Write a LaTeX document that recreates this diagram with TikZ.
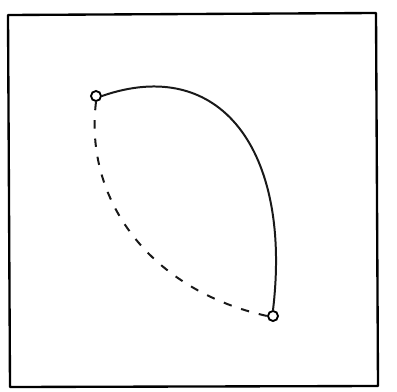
\documentclass[tikz,border=0pt]{standalone}
\usepackage{tikz}
\usetikzlibrary{positioning,calc}

\begin{document}
\begin{tikzpicture}[
  x=0.03cm, y=-0.03cm,
  frame/.style={draw, line width=2pt, line join=round},
  dot/.style={circle, draw, line width=1.6pt, inner sep=0pt, minimum size=0.3cm, fill=white},
  link/.style={line width=1.7pt, black!90},
  alt/.style={link, dash pattern=on 0.25cm off 0.3cm}
]
\useasboundingbox (0,0) rectangle (397,391);
\draw[frame] (8,15) -- (376,13) -- (378,386) -- (10,387) -- cycle;
\node[dot] (a) at (96,96) {};
\node[dot] (b) at (273,316) {};
\draw[link] (a.east) .. controls (220,55) and (292,150) .. (b.north);
\draw[alt] (a.south) .. controls (84,200) and (150,290) .. (b.west);
\end{tikzpicture}
\end{document}
